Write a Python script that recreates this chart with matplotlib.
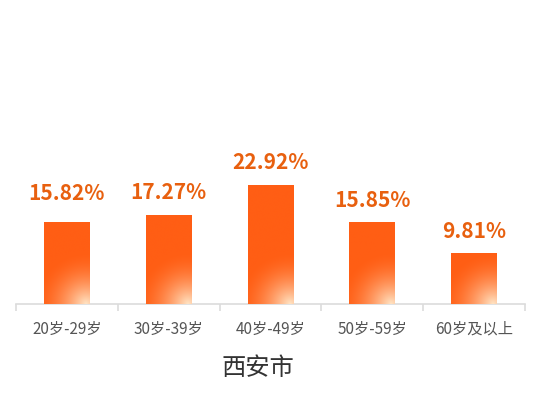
import matplotlib
matplotlib.use("Agg")
import matplotlib.pyplot as plt
import numpy as np

plt.rcParams['font.family'] = ['Noto Sans CJK SC', 'DejaVu Sans']

categories = ["20岁-29岁", "30岁-39岁", "40岁-49岁", "50岁-59岁", "60岁及以上"]
values = [15.82, 17.27, 22.92, 15.85, 9.81]
title = "西安市"

# gap (points) between bar top and label baseline; first label sits higher
label_lift = [16, 11.5, 11.5, 11, 11]

BAR_COLOR = np.array([255, 94, 20]) / 255.0
GLOW_COLOR = np.array([255, 228, 196]) / 255.0


def add_glow(ax, patch):
    """Radial light spot near the bottom right of a bar."""
    x0, y0 = patch.get_x(), patch.get_y()
    w, h = patch.get_width(), patch.get_height()
    p0 = ax.transData.transform((x0, y0))
    p1 = ax.transData.transform((x0 + w, y0 + h))
    wpx, hpx = p1[0] - p0[0], p1[1] - p0[1]
    nx, ny = max(int(wpx * 2), 2), max(int(hpx * 2), 2)
    xs = np.linspace(0, wpx, nx)
    ys = np.linspace(hpx, 0, ny)
    X, Y = np.meshgrid(xs, ys)
    cx, cy = wpx * 0.92, 0.0
    r = np.hypot(X - cx, Y - cy) / 52.0
    t = np.clip(1 - r, 0, 1) ** 1.8
    img = np.zeros((ny, nx, 4))
    for i in range(3):
        img[..., i] = BAR_COLOR[i] * (1 - t) + GLOW_COLOR[i] * t
    img[..., 3] = 1.0
    im = ax.imshow(img, extent=(x0, x0 + w, y0, y0 + h), aspect='auto',
                   zorder=3, interpolation='bilinear')
    im.set_clip_path(patch)


def main():
    fig = plt.figure(figsize=(5.41, 3.97), dpi=100)
    ax = fig.add_axes([16 / 541, 93 / 397, 509 / 541, 264 / 397])
    x = np.arange(len(categories))
    bars = ax.bar(x, values, width=0.45, color=BAR_COLOR, zorder=2)
    ax.set_xlim(-0.5, len(categories) - 0.5)
    ax.set_ylim(0, 51)

    for b in bars:
        add_glow(ax, b)

    for xi, v, lift in zip(x, values, label_lift):
        ax.annotate(f"{v:.2f}%", (xi, v), xytext=(0, lift),
                    textcoords='offset points', ha='center', va='baseline',
                    fontsize=15, fontweight='bold', color='#E8600F')

    for s in ['top', 'right', 'left']:
        ax.spines[s].set_visible(False)
    ax.spines['bottom'].set_color('#DCDCDC')
    ax.spines['bottom'].set_linewidth(1.2)
    ax.set_yticks([])
    ax.set_xticks(np.arange(-0.5, len(categories), 1.0))
    ax.set_xticklabels([])
    ax.set_xticks(x, minor=True)
    ax.set_xticklabels(categories, minor=True, fontsize=11, color='#555555')
    ax.tick_params(axis='x', which='major', length=5, color='#DCDCDC', width=1.2)
    ax.tick_params(axis='x', which='minor', length=0, pad=12)

    fig.text(258 / 541, 1 - 368 / 397, title, ha='center', va='center',
             fontsize=17.5, color='#333333')

    fig.savefig("out.png", dpi=100)


if __name__ == "__main__":
    main()
